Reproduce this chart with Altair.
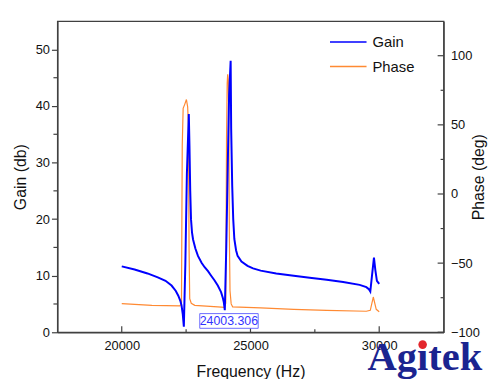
import altair as alt
import pandas as pd

# ---------------- data ----------------
gain_freq = [20000, 20500, 21000, 21400, 21700, 21935, 22100, 22192, 22280, 22320,
             22370, 22412, 22470, 22530, 22605, 22630, 22660, 22690, 22730, 22770,
             22860, 22960, 23100, 23220, 23350, 23473, 23600, 23730, 23858, 23930,
             23965, 24003, 24060, 24120, 24170, 24230, 24250, 24290, 24330, 24373,
             24440, 24500, 24650, 24885, 25100, 25396, 26000, 26680, 27300, 27960,
             28600, 29240, 29500, 29600, 29654, 29720, 29796, 29850, 29911, 30000]
gain_db = [11.65, 11.1, 10.4, 9.7, 9.1, 8.26, 7.3, 6.5, 5.5, 4.8,
           3.2, 1.0, 12.0, 28.0, 38.6, 33.0, 25.0, 20.0, 17.6, 16.4,
           14.8, 13.5, 12.3, 11.5, 10.8, 10.0, 9.2, 8.26, 7.1, 6.0,
           5.3, 3.9, 15.0, 30.0, 42.0, 48.0, 36.0, 26.0, 20.0, 16.5,
           14.5, 13.5, 12.5, 11.75, 11.3, 10.9, 10.4, 10.0, 9.65, 9.3,
           8.9, 8.38, 7.97, 7.6, 7.2, 10.0, 13.2, 11.0, 9.1, 8.55]

phase_freq = [20000, 21170, 22260, 22320, 22350, 22385, 22450, 22512, 22560, 22590,
              22615, 22640, 22700, 22835, 23730, 23990, 24040, 24070, 24095, 24115,
              24140, 24160, 24180, 24205, 24250, 24308, 25396, 26680, 27960, 29500,
              29654, 29770, 29885, 30000]
phase_deg = [-79.3, -80.5, -80.9, -79.0, 35.0, 62.0, 65.0, 68.3, 63.0, 50.0,
             -40.0, -75.7, -79.0, -80.5, -81.6, -82.0, -79.0, 40.0, 80.0, 86.6,
             82.0, 50.0, -30.0, -70.0, -79.5, -81.6, -82.3, -83.4, -84.1, -84.8,
             -84.1, -74.5, -83.4, -85.2]

series = ["Gain", "Phase"]
series_colors = ["#0000ff", "#ff8a33"]

x_ticks_major = [20000, 25000, 30000]
x_ticks_minor = [22500, 27500]
gain_ticks_major = [0, 10, 20, 30, 40, 50]
gain_ticks_minor = [5, 15, 25, 35, 45]
phase_ticks_major = [-100, -50, 0, 50, 100]
phase_ticks_minor = [-75, -25, 25, 75]

annot_label = ["24003.306"]
annot_x = [24160]
annot_y = [1.92]
annot_box_x = [23030]
annot_box_x2 = [25300]
annot_box_y = [0.7]
annot_box_y2 = [3.3]

logo_text = ["Agitek"]

# ---------------- layout / style ----------------
W, H = 391, 315
AX = "#404040"
FONT = "Liberation Sans"

gain_df = pd.DataFrame({"f": gain_freq, "g": gain_db, "s": series[0]})
phase_df = pd.DataFrame({"f": phase_freq, "p": phase_deg, "s": series[1]})

xscale = alt.Scale(domain=[17500, 32500], nice=False, zero=False)
xaxis = alt.Axis(values=x_ticks_major, format="d", title="Frequency (Hz)",
                 ticks=False, tickSize=0, labelPadding=7, titlePadding=12)
xenc = alt.X("f:Q", scale=xscale, axis=xaxis)
gscale = alt.Scale(domain=[0, 55], nice=False, zero=False)
gaxis = alt.Axis(orient="left", values=gain_ticks_major, title="Gain (db)",
                 tickSize=6, labelPadding=2, titlePadding=7)
genc = alt.Y("g:Q", scale=gscale, axis=gaxis)
pscale = alt.Scale(domain=[-100, 125], nice=False, zero=False)
paxis = alt.Axis(orient="right", values=phase_ticks_major, title="Phase (deg)",
                 ticks=False, tickSize=0, labelPadding=7, titlePadding=7,
                 titleAngle=270)
penc = alt.Y("p:Q", scale=pscale, axis=paxis)

color = alt.Color("s:N", scale=alt.Scale(domain=series, range=series_colors),
                  legend=alt.Legend(title=None, orient="none", legendX=275, legendY=12,
                                    symbolType="stroke", symbolSize=37 * 37,
                                    symbolStrokeWidth=1.5, labelFontSize=15,
                                    labelFont=FONT, labelColor="#111", labelOffset=5,
                                    clipHeight=18, rowPadding=7, padding=0))

gain_line = alt.Chart(gain_df).mark_line(strokeWidth=2).encode(x=xenc, y=genc, color=color)
phase_line = alt.Chart(phase_df).mark_line(strokeWidth=1.2).encode(x=xenc, y=penc, color=color)

# minor / inward ticks drawn from the tick lists
gmin = alt.Chart(pd.DataFrame({"g": gain_ticks_minor})).mark_rule(color=AX, strokeWidth=1.2).encode(
    y=genc, x=alt.value(-4), x2=alt.value(0))
xmaj = alt.Chart(pd.DataFrame({"f": x_ticks_major})).mark_rule(color=AX, strokeWidth=1.2).encode(
    x=xenc, y=alt.value(H - 6), y2=alt.value(H))
xmin = alt.Chart(pd.DataFrame({"f": x_ticks_minor})).mark_rule(color=AX, strokeWidth=1.2).encode(
    x=xenc, y=alt.value(H - 3), y2=alt.value(H))
pmaj = alt.Chart(pd.DataFrame({"p": phase_ticks_major})).mark_rule(color=AX, strokeWidth=1.2).encode(
    y=penc, x=alt.value(W - 6), x2=alt.value(W))
pmin = alt.Chart(pd.DataFrame({"p": phase_ticks_minor})).mark_rule(color=AX, strokeWidth=1.2).encode(
    y=penc, x=alt.value(W - 3), x2=alt.value(W))

annot_df = pd.DataFrame({"label": annot_label, "f": annot_x, "g": annot_y,
                         "bx": annot_box_x, "bx2": annot_box_x2,
                         "by": annot_box_y, "by2": annot_box_y2})
annot_box = alt.Chart(annot_df).mark_rect(fill="white", stroke="#6b6bff", strokeWidth=1).encode(
    x=alt.X("bx:Q", scale=xscale, axis=xaxis), x2="bx2:Q",
    y=alt.Y("by:Q", scale=gscale, axis=gaxis), y2="by2:Q")
annot_text = alt.Chart(annot_df).mark_text(font=FONT, fontSize=12.5, color="#3333ff").encode(
    x=xenc, y=genc, text="label:N")

logo_df = pd.DataFrame({"t": logo_text})
logo = alt.Chart(logo_df).mark_text(font="Liberation Serif", fontWeight="bold", fontSize=41,
                                    color="#1b2490", align="left", baseline="alphabetic").encode(
    x=alt.value(314), y=alt.value(353), text="t:N")
logo_dot = alt.Chart(logo_df).mark_circle(color="#e3262d", opacity=1, size=75).encode(
    x=alt.value(369.8), y=alt.value(327.5))

gain_layer = alt.layer(gain_line, gmin, xmaj, xmin, annot_box, annot_text, logo, logo_dot)
phase_layer = alt.layer(phase_line, pmaj, pmin)

chart = alt.layer(phase_layer, gain_layer).resolve_scale(y="independent").properties(
    width=W, height=H,
    autosize=alt.AutoSizeParams(type="none"),
    padding={"left": 50, "top": 11, "right": 46, "bottom": 45},
).configure_view(stroke=AX, strokeWidth=1.3).configure_axis(
    grid=False, domainColor=AX, domainWidth=1.3, tickColor=AX, tickWidth=1.2,
    labelFont=FONT, labelFontSize=13, labelColor="#111",
    titleFont=FONT, titleFontSize=16, titleFontWeight="normal", titleColor="#111",
)

chart.save("out.html", embed_options={"renderer": "svg", "actions": False})
